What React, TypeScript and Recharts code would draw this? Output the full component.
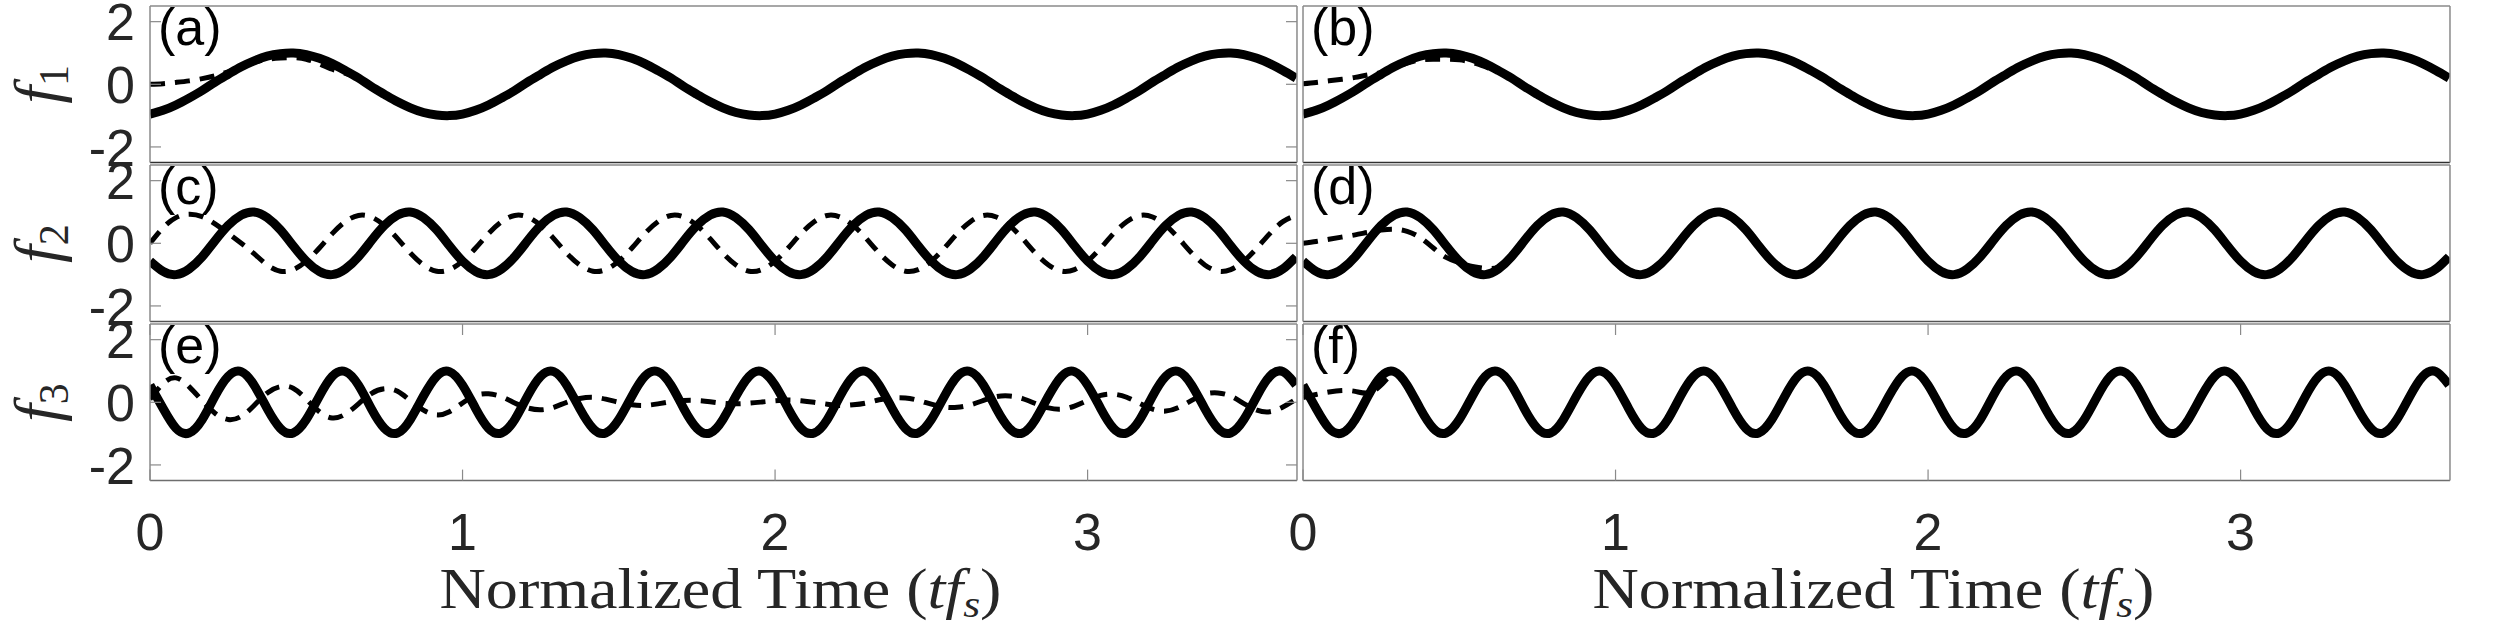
import React from 'react';
import { LineChart, Line, XAxis, YAxis } from 'recharts';

// ---------------- data ----------------
const time = [
  0, 0.042, 0.083, 0.125, 0.167, 0.208, 0.25, 0.292, 0.333, 0.375, 0.417, 0.458, 0.5, 0.542, 0.583, 0.625, 0.667, 0.708, 0.75, 0.792, 0.833, 0.875, 0.917, 0.958,
  1, 1.042, 1.083, 1.125, 1.167, 1.208, 1.25, 1.292, 1.333, 1.375, 1.417, 1.458, 1.5, 1.542, 1.583, 1.625, 1.667, 1.708, 1.75, 1.792, 1.833, 1.875, 1.917, 1.958,
  2, 2.042, 2.083, 2.125, 2.167, 2.208, 2.25, 2.292, 2.333, 2.375, 2.417, 2.458, 2.5, 2.542, 2.583, 2.625, 2.667, 2.708, 2.75, 2.792, 2.833, 2.875, 2.917, 2.958,
  3, 3.042, 3.083, 3.125, 3.167, 3.208, 3.25, 3.292, 3.333, 3.375, 3.417, 3.458, 3.5, 3.542, 3.583, 3.625, 3.667,
];

const f1True = [
  -0.95, -0.83, -0.66, -0.44, -0.2, 0.07, 0.32, 0.56, 0.75, 0.9, 0.98, 1.0, 0.95, 0.83, 0.66, 0.44, 0.2, -0.07, -0.32, -0.56, -0.75, -0.9, -0.98, -1.0,
  -0.95, -0.83, -0.66, -0.44, -0.2, 0.07, 0.32, 0.56, 0.75, 0.9, 0.98, 1.0, 0.95, 0.83, 0.66, 0.44, 0.2, -0.07, -0.32, -0.56, -0.75, -0.9, -0.98, -1.0,
  -0.95, -0.83, -0.66, -0.44, -0.2, 0.07, 0.32, 0.56, 0.75, 0.9, 0.98, 1.0, 0.95, 0.83, 0.66, 0.44, 0.2, -0.07, -0.32, -0.56, -0.75, -0.9, -0.98, -1.0,
  -0.95, -0.83, -0.66, -0.44, -0.2, 0.07, 0.32, 0.56, 0.75, 0.9, 0.98, 1.0, 0.95, 0.83, 0.66, 0.44, 0.2,
];

const f2True = [
  -0.57, -0.9, -1.0, -0.82, -0.43, 0.08, 0.57, 0.9, 1.0, 0.82, 0.43, -0.08,
  -0.57, -0.9, -1.0, -0.82, -0.43, 0.08, 0.57, 0.9, 1.0, 0.82, 0.43, -0.08,
  -0.57, -0.9, -1.0, -0.82, -0.43, 0.08, 0.57, 0.9, 1.0, 0.82, 0.43, -0.08,
  -0.57, -0.9, -1.0, -0.82, -0.43, 0.08, 0.57, 0.9, 1.0, 0.82, 0.43, -0.08,
  -0.57, -0.9, -1.0, -0.82, -0.43, 0.08, 0.57, 0.9, 1.0, 0.82, 0.43, -0.08,
  -0.57, -0.9, -1.0, -0.82, -0.43, 0.08, 0.57, 0.9, 1.0, 0.82, 0.43, -0.08,
  -0.57, -0.9, -1.0, -0.82, -0.43, 0.08, 0.57, 0.9, 1.0, 0.82, 0.43, -0.08,
  -0.57, -0.9, -1.0, -0.82, -0.43,
];

const f3True = [
  0.55, -0.2, -0.83, -0.98, -0.55, 0.2, 0.83, 0.98,
  0.55, -0.2, -0.83, -0.98, -0.55, 0.2, 0.83, 0.98,
  0.55, -0.2, -0.83, -0.98, -0.55, 0.2, 0.83, 0.98,
  0.55, -0.2, -0.83, -0.98, -0.55, 0.2, 0.83, 0.98,
  0.55, -0.2, -0.83, -0.98, -0.55, 0.2, 0.83, 0.98,
  0.55, -0.2, -0.83, -0.98, -0.55, 0.2, 0.83, 0.98,
  0.55, -0.2, -0.83, -0.98, -0.55, 0.2, 0.83, 0.98,
  0.55, -0.2, -0.83, -0.98, -0.55, 0.2, 0.83, 0.98,
  0.55, -0.2, -0.83, -0.98, -0.55, 0.2, 0.83, 0.98,
  0.55, -0.2, -0.83, -0.98, -0.55, 0.2, 0.83, 0.98,
  0.55, -0.2, -0.83, -0.98, -0.55, 0.2, 0.83, 0.98,
  0.55,
];

// estimates (dashed); values end where the estimate disappears under the true signal
const estA = [0, 0.02, 0.06, 0.11, 0.18, 0.27, 0.4, 0.55, 0.7, 0.8, 0.84, 0.85, 0.8, 0.65, 0.48, 0.35, 0.18, -0.07];
const estB = [0.02, 0.06, 0.11, 0.16, 0.22, 0.3, 0.38, 0.54, 0.68, 0.78, 0.8, 0.8, 0.78, 0.7, 0.56, 0.4, 0.2, -0.07];
const estC = [
  0, 0.5, 0.82, 0.93, 0.85, 0.62, 0.32, 0, -0.33, -0.69, -0.89, -0.84, -0.57,
  -0.15, 0.31, 0.69, 0.89, 0.84, 0.57, 0.15, -0.31, -0.69, -0.89, -0.84,
  -0.57, -0.15, 0.31, 0.69, 0.89, 0.84, 0.57, 0.15, -0.31, -0.69, -0.89, -0.84,
  -0.57, -0.15, 0.31, 0.69, 0.89, 0.84, 0.57, 0.15, -0.31, -0.69, -0.89, -0.84,
  -0.57, -0.15, 0.31, 0.69, 0.89, 0.84, 0.57, 0.15, -0.31, -0.69, -0.89, -0.84,
  -0.57, -0.15, 0.31, 0.69, 0.89, 0.84, 0.57, 0.15, -0.31, -0.69, -0.89, -0.84,
  -0.57, -0.15, 0.31, 0.69, 0.89, 0.84, 0.57, 0.15, -0.31, -0.69, -0.89, -0.84,
  -0.57, -0.15, 0.31, 0.69, 0.89,
];
const estD = [0, 0.06, 0.13, 0.2, 0.27, 0.35, 0.42, 0.45, 0.38, 0.18, -0.15, -0.45, -0.62, -0.74, -0.8, -0.76, -0.43];
const estE = [
  0.1, 0.6, 0.78, 0.5, 0.05, -0.35, -0.55, -0.45,
  -0.1, 0.3, 0.5, 0.45, 0.1, -0.3, -0.5, -0.38,
  -0.05, 0.28, 0.43, 0.35, 0.05, -0.25, -0.4, -0.3,
  -0.02, 0.22, 0.27, 0.18, -0.02, -0.18, -0.24, -0.16,
  0.0, 0.12, 0.16, 0.1, 0.0, -0.08, -0.1, -0.05,
  0.02, 0.06, 0.06, 0.02, -0.03, -0.05, -0.03, 0.01,
  0.05, 0.07, 0.05, 0.0, -0.06, -0.1, -0.08, -0.02,
  0.08, 0.14, 0.14, 0.06, -0.06, -0.15, -0.16, -0.08,
  0.06, 0.18, 0.2, 0.12, -0.04, -0.18, -0.22, -0.12,
  0.06, 0.22, 0.26, 0.16, -0.04, -0.22, -0.28, -0.16,
  0.06, 0.26, 0.3, 0.2, -0.04, -0.25, -0.3, -0.15,
  0.1,
];
const estF = [0.15, 0.25, 0.33, 0.38, 0.35, 0.3, 0.55, 0.9, 0.6];

const xTicks = [0, 1, 2, 3];
const yTicks = [-2, 0, 2];
const panelLetters = ['(a)', '(b)', '(c)', '(d)', '(e)', '(f)'];
const rowLabels = ['1', '2', '3'];
const xTitle = 'Normalized Time (';

// ---------------- layout ----------------
const PW = 1147;
const PH = 156.6;
const COL_LEFT = [150, 1303];
const ROW_TOP = [6, 165.3, 324.3];
const X_DOMAIN: [number, number] = [0, 3.67];
const Y_DOMAIN: [number, number] = [-2.5, 2.5];
const AX = 20; // size reserved for each axis

const FRAME = '#8a8a8a';
const DARK = '#262626';
const SANS = "'Liberation Sans', Arial, Helvetica, sans-serif";
const SERIF = "'Liberation Serif', 'Times New Roman', serif";

type Row = { t: number; s: number; d: number | null };
const build = (solid: number[], est: number[]): Row[] =>
  time.map((t, i) => ({ t, s: solid[i], d: i < est.length ? est[i] : null }));

const LeftTick = (props: any) => {
  const { x, y, payload, showLabel } = props;
  return (
    <g>
      <line x1={x} x2={x + 11} y1={y} y2={y} stroke={FRAME} strokeWidth={1.2} />
      {showLabel && (
        <text x={x - 15} y={y} dy="0.36em" textAnchor="end" fontFamily={SANS} fontSize={52} fill={DARK}>
          {String(payload.value)}
        </text>
      )}
    </g>
  );
};

const RightTick = (props: any) => {
  const { x, y } = props;
  return <line x1={x} x2={x - 11} y1={y} y2={y} stroke={FRAME} strokeWidth={1.2} />;
};

const BottomTick = (props: any) => {
  const { x, y, payload } = props;
  return (
    <g>
      <line x1={x} x2={x} y1={y} y2={y - 11} stroke={FRAME} strokeWidth={1.2} />
      <text x={x} y={y + 69} textAnchor="middle" fontFamily={SANS} fontSize={52} fill={DARK}>
        {String(payload.value)}
      </text>
    </g>
  );
};

const TopTick = (props: any) => {
  const { x, y } = props;
  return <line x1={x} x2={x} y1={y} y2={y + 11} stroke={FRAME} strokeWidth={1.2} />;
};

const NoTick = () => <g />;

function Panel({ col, row, data }: { col: number; row: number; data: Row[] }) {
  const mLeft = col === 0 ? 150 : 30;
  const mRight = col === 0 ? 20 : 40;
  const mTop = 40;
  const mBottom = row === 2 ? 100 : 40;
  const width = mLeft + PW + mRight;
  const height = mTop + PH + mBottom;
  const left = COL_LEFT[col] - mLeft;
  const top = ROW_TOP[row] - mTop;
  const showX = row === 2;
  const bottomColor = row === 0 ? '#303030' : row === 1 ? '#555555' : '#6e6e6e';
  return (
    <div style={{ position: 'absolute', left, top, width, height }}>
      <LineChart
        width={width}
        height={height}
        data={data}
        margin={{ top: mTop - AX, right: mRight - AX, bottom: mBottom - AX, left: mLeft - AX }}
      >
        <XAxis
          xAxisId="b"
          dataKey="t"
          type="number"
          domain={X_DOMAIN}
          allowDataOverflow
          ticks={xTicks}
          interval={0}
          height={AX}
          tickSize={0}
          tickMargin={0}
          tickLine={false}
          axisLine={{ stroke: bottomColor, strokeWidth: 1.5 }}
          tick={showX ? (p: any) => <BottomTick {...p} /> : (p: any) => <NoTick />}
        />
        <XAxis
          xAxisId="t"
          orientation="top"
          dataKey="t"
          type="number"
          domain={X_DOMAIN}
          allowDataOverflow
          ticks={xTicks}
          interval={0}
          height={AX}
          tickSize={0}
          tickMargin={0}
          tickLine={false}
          axisLine={{ stroke: FRAME, strokeWidth: 1.5 }}
          tick={showX ? (p: any) => <TopTick {...p} /> : (p: any) => <NoTick />}
        />
        <YAxis
          yAxisId="l"
          type="number"
          domain={Y_DOMAIN}
          allowDataOverflow
          ticks={yTicks}
          interval={0}
          width={AX}
          tickSize={0}
          tickMargin={0}
          tickLine={false}
          axisLine={{ stroke: FRAME, strokeWidth: 1.5 }}
          tick={col === 0 ? (p: any) => <LeftTick {...p} showLabel /> : (p: any) => <NoTick />}
        />
        <YAxis
          yAxisId="r"
          orientation="right"
          type="number"
          domain={Y_DOMAIN}
          allowDataOverflow
          ticks={yTicks}
          interval={0}
          width={AX}
          tickSize={0}
          tickMargin={0}
          tickLine={false}
          axisLine={{ stroke: FRAME, strokeWidth: 1.5 }}
          tick={col === 0 ? (p: any) => <RightTick {...p} /> : (p: any) => <NoTick />}
        />
        <Line
          xAxisId="t"
          yAxisId="r"
          dataKey="d"
          type="natural"
          stroke="#000"
          strokeWidth={5}
          strokeDasharray="15 10"
          dot={false}
          activeDot={false}
          connectNulls={false}
          isAnimationActive={false}
        />
        <Line
          xAxisId="b"
          yAxisId="l"
          dataKey="s"
          type="natural"
          stroke="#000"
          strokeWidth={9}
          dot={false}
          activeDot={false}
          isAnimationActive={false}
        />
      </LineChart>
    </div>
  );
}

const panelData: Row[][] = [
  build(f1True, estA),
  build(f1True, estB),
  build(f2True, estC),
  build(f2True, estD),
  build(f3True, estE),
  build(f3True, estF),
];

export default function App() {
  return (
    <div style={{ position: 'absolute', left: 0, top: 0, width: 2500, height: 625, background: '#fff', overflow: 'hidden' }}>
      {panelData.map((d, i) => (
        <Panel key={i} col={i % 2} row={Math.floor(i / 2)} data={d} />
      ))}
      <svg width={2500} height={625} style={{ position: 'absolute', left: 0, top: 0, pointerEvents: 'none' }}>
        {panelLetters.map((txt, i) => (
          <text
            key={txt}
            x={COL_LEFT[i % 2] + 8}
            y={ROW_TOP[Math.floor(i / 2)] + 39}
            fontFamily={SANS}
            fontSize={52}
            fill="#000"
          >
            {txt}
          </text>
        ))}
        {rowLabels.map((sub, r) => (
          <text
            key={sub}
            transform={`translate(58, ${ROW_TOP[r] + PH / 2}) rotate(-90)`}
            textAnchor="middle"
            fontFamily={SERIF}
            fontSize={64}
            fill={DARK}
          >
            <tspan fontStyle="italic">f</tspan>
            <tspan fontSize={42} dy={10}>{sub}</tspan>
          </text>
        ))}
        {[0, 1].map((c) => (
          <text
            key={c}
            x={COL_LEFT[c] + PW / 2 - 3}
            y={608}
            textAnchor="middle"
            fontFamily={SERIF}
            fontSize={56}
            fill={DARK}
            textLength={562}
            lengthAdjust="spacingAndGlyphs"
          >
            {xTitle}
            <tspan fontStyle="italic">tf</tspan>
            <tspan fontStyle="italic" fontSize={38} dy={9}>s</tspan>
            <tspan dy={-9}>)</tspan>
          </text>
        ))}
      </svg>
    </div>
  );
}
